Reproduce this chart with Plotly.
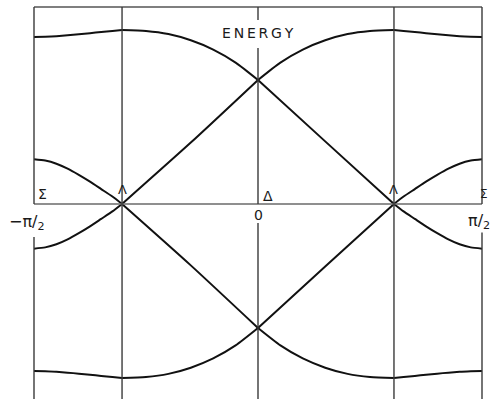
import plotly.graph_objects as go

# Symmetry points along the zone (units of pi/2)
K_SYM = [-1.0, -0.607, 0.0, 0.607, 1.0]

# Sigma region, left (k from -pi/2 to Lambda)
k_sig_l = [-1.0, -0.95, -0.9, -0.85, -0.8, -0.75, -0.7, -0.65, -0.607]
e_sig_l_outer_up = [1.347, 1.349, 1.353, 1.36, 1.368, 1.377, 1.387, 1.396, 1.403]
e_sig_l_inner_up = [0.36, 0.35, 0.325, 0.285, 0.235, 0.18, 0.12, 0.06, 0.0]
e_sig_l_inner_dn = [-0.36, -0.35, -0.325, -0.285, -0.235, -0.18, -0.12, -0.06, 0.0]
e_sig_l_outer_dn = [-1.347, -1.349, -1.353, -1.36, -1.368, -1.377, -1.387, -1.396, -1.403]

# Delta region, left (Lambda to 0)
k_del_l = [-0.607, -0.5, -0.4, -0.3, -0.2, -0.1, 0.0]
e_del_l_up = [1.403, 1.395, 1.37, 1.32, 1.245, 1.14, 1.0]
e_del_l_dn = [-1.403, -1.395, -1.37, -1.32, -1.245, -1.14, -1.0]
k_lin_l = [-0.607, -0.3, 0.0]
e_lin_l_up = [0.0, 0.495, 1.0]
e_lin_l_dn = [0.0, -0.495, -1.0]

# Delta region, right (0 to Lambda)
k_del_r = [0.0, 0.1, 0.2, 0.3, 0.4, 0.5, 0.607]
e_del_r_up = [1.0, 1.14, 1.245, 1.32, 1.37, 1.395, 1.403]
e_del_r_dn = [-1.0, -1.14, -1.245, -1.32, -1.37, -1.395, -1.403]
k_lin_r = [0.0, 0.3, 0.607]
e_lin_r_up = [1.0, 0.505, 0.0]
e_lin_r_dn = [-1.0, -0.505, 0.0]

# Sigma region, right (Lambda to pi/2)
k_sig_r = [0.607, 0.65, 0.7, 0.75, 0.8, 0.85, 0.9, 0.95, 1.0]
e_sig_r_outer_up = [1.403, 1.396, 1.387, 1.377, 1.368, 1.36, 1.353, 1.349, 1.347]
e_sig_r_inner_up = [0.0, 0.06, 0.12, 0.18, 0.235, 0.285, 0.325, 0.35, 0.36]
e_sig_r_inner_dn = [0.0, -0.06, -0.12, -0.18, -0.235, -0.285, -0.325, -0.35, -0.36]
e_sig_r_outer_dn = [-1.403, -1.396, -1.387, -1.377, -1.368, -1.36, -1.353, -1.349, -1.347]

segments = [
    (k_sig_l, e_sig_l_outer_up), (k_sig_l, e_sig_l_inner_up),
    (k_sig_l, e_sig_l_inner_dn), (k_sig_l, e_sig_l_outer_dn),
    (k_del_l, e_del_l_up), (k_del_l, e_del_l_dn),
    (k_lin_l, e_lin_l_up), (k_lin_l, e_lin_l_dn),
    (k_del_r, e_del_r_up), (k_del_r, e_del_r_dn),
    (k_lin_r, e_lin_r_up), (k_lin_r, e_lin_r_dn),
    (k_sig_r, e_sig_r_outer_up), (k_sig_r, e_sig_r_inner_up),
    (k_sig_r, e_sig_r_inner_dn), (k_sig_r, e_sig_r_outer_dn),
]

X_RANGE = [-1.1518, 1.0357]
Y_RANGE = [-1.5726, 1.645]
E_TOP = 1.589

fig = go.Figure()
for ks, es in segments:
    fig.add_trace(go.Scatter(
        x=ks, y=es, mode="lines", hoverinfo="skip",
        line=dict(color="#111111", width=2, shape="spline", smoothing=0.6),
    ))

grid = dict(color="#3a3a3a", width=1.4)
shapes = []
# top border
shapes.append(dict(type="line", x0=K_SYM[0], x1=K_SYM[-1], y0=E_TOP, y1=E_TOP,
                   line=dict(color="#555555", width=1.4)))
# k axis (zero energy)
shapes.append(dict(type="line", x0=K_SYM[0], x1=K_SYM[-1], y0=0, y1=0,
                   line=dict(color="#6a6a6a", width=1.6)))
# vertical lines at the symmetry points, broken where labels sit
vertical_runs = {
    0: [(E_TOP, 0.0), (-0.266, Y_RANGE[0])],
    1: [(E_TOP, Y_RANGE[0])],
    2: [(E_TOP, 1.484), (1.258, 0.0), (-0.153, Y_RANGE[0])],
    3: [(E_TOP, Y_RANGE[0])],
    4: [(E_TOP, 0.0), (-0.23, Y_RANGE[0])],
}
for idx, runs in vertical_runs.items():
    for y0, y1 in runs:
        shapes.append(dict(type="line", x0=K_SYM[idx], x1=K_SYM[idx],
                           y0=y0, y1=y1, line=grid))

font = dict(family="DejaVu Sans", color="#1a1a1a")
annotations = [
    dict(x=0.0, y=1.379, text="E\u2009N\u2009E\u2009R\u2009G\u2009Y",
         font=dict(size=14, **font)),
    dict(x=0.0, y=-0.089, text="0", font=dict(size=14, **font)),
    dict(x=0.045, y=0.065, text="Δ", font=dict(size=14, **font)),
    dict(x=K_SYM[1], y=0.113, text="Λ", font=dict(size=13, **font)),
    dict(x=K_SYM[3], y=0.113, text="Λ", font=dict(size=13, **font)),
    dict(x=-0.962, y=0.08, text="Σ", font=dict(size=14, **font)),
    dict(x=1.0357, y=0.08, text="Σ", xanchor="right", font=dict(size=12, **font)),
    dict(x=-1.03, y=-0.15, text="−π/<sub>2</sub>", font=dict(size=16, **font)),
    dict(x=0.985, y=-0.145, text="π/<sub>2</sub>", font=dict(size=16, **font)),
]
for a in annotations:
    a.update(showarrow=False, xref="x", yref="y")

fig.update_layout(
    width=490, height=399,
    margin=dict(l=0, r=0, t=0, b=0),
    paper_bgcolor="white", plot_bgcolor="white",
    showlegend=False,
    xaxis=dict(range=X_RANGE, visible=False, fixedrange=True),
    yaxis=dict(range=Y_RANGE, visible=False, fixedrange=True),
    shapes=shapes, annotations=annotations,
)

fig.write_html("out.html")
